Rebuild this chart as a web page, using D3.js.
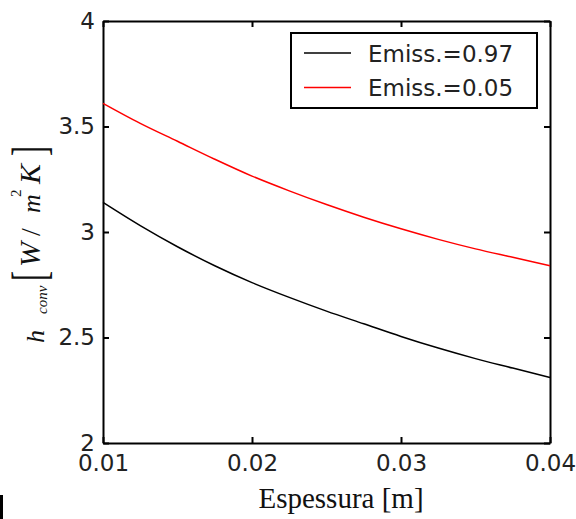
<!DOCTYPE html>
<html>
<head>
<meta charset="utf-8">
<script src="https://cdn.jsdelivr.net/npm/d3@7"></script>
<style>
  html, body { margin: 0; padding: 0; background: #fff; }
  svg { display: block; }
</style>
</head>
<body>
<svg id="chart" width="576" height="519"></svg>
<script>
// ---- data ----
const espessura = [0.01, 0.0125, 0.015, 0.0175, 0.02, 0.0225, 0.025, 0.0275, 0.03, 0.0325, 0.035, 0.0375, 0.04];
const hEmiss097 = [3.14, 3.03, 2.93, 2.84, 2.76, 2.69, 2.625, 2.565, 2.505, 2.45, 2.40, 2.355, 2.31];
const hEmiss005 = [3.61, 3.515, 3.43, 3.345, 3.265, 3.195, 3.13, 3.07, 3.015, 2.965, 2.92, 2.88, 2.84];
const seriesNames = ["Emiss.=0.97", "Emiss.=0.05"];
const seriesColors = ["#000000", "#ff0000"];
const xTickValues = [0.01, 0.02, 0.03, 0.04];
const yTickValues = [2, 2.5, 3, 3.5, 4];
const xDomain = [0.01, 0.04];
const yDomain = [2, 4];

// ---- layout ----
const svg = d3.select("#chart");
const pL = 103, pR = 550, pT = 21, pB = 443;
const x = d3.scaleLinear().domain(xDomain).range([pL, pR]);
const y = d3.scaleLinear().domain(yDomain).range([pB, pT]);

svg.append("rect").attr("width", 576).attr("height", 519).attr("fill", "#fff");

const sansFont = "DejaVu Sans, Arial, sans-serif";
const serifFont = "Liberation Serif, Times New Roman, serif";

function styleAxis(g) {
  g.select(".domain").attr("stroke", "#000").attr("stroke-width", 2);
  g.selectAll(".tick line").attr("stroke", "#000").attr("stroke-width", 2);
  g.selectAll(".tick text").attr("fill", "#222").style("font-family", sansFont).style("font-size", "23px");
}

// bottom
svg.append("g").attr("transform", `translate(0,${pB})`)
  .call(d3.axisBottom(x).tickValues(xTickValues).tickSizeInner(-6).tickSizeOuter(0).tickPadding(12).tickFormat(d3.format(".2f")))
  .call(styleAxis);
// top
svg.append("g").attr("transform", `translate(0,${pT})`)
  .call(d3.axisTop(x).tickValues(xTickValues).tickSizeInner(-6).tickSizeOuter(0).tickFormat(""))
  .call(styleAxis);
// left
svg.append("g").attr("transform", `translate(${pL},0)`)
  .call(d3.axisLeft(y).tickValues(yTickValues).tickSizeInner(-6).tickSizeOuter(0).tickPadding(8).tickFormat(d3.format("")))
  .call(styleAxis);
// right
svg.append("g").attr("transform", `translate(${pR},0)`)
  .call(d3.axisRight(y).tickValues(yTickValues).tickSizeInner(-6).tickSizeOuter(0).tickFormat(""))
  .call(styleAxis);

// ---- lines ----
const line = d3.line().x(d => x(d[0])).y(d => y(d[1])).curve(d3.curveMonotoneX);
[hEmiss097, hEmiss005].forEach((vals, i) => {
  svg.append("path")
    .datum(espessura.map((e, j) => [e, vals[j]]))
    .attr("fill", "none")
    .attr("stroke", seriesColors[i])
    .attr("stroke-width", 1.5)
    .attr("d", line);
});

// ---- legend ----
const lg = svg.append("g");
lg.append("rect").attr("x", 291).attr("y", 33).attr("width", 246).attr("height", 75)
  .attr("fill", "#fff").attr("stroke", "#000").attr("stroke-width", 2);
seriesNames.forEach((name, i) => {
  const cy = 53 + i * 34.6;
  lg.append("line").attr("x1", 304).attr("x2", 351).attr("y1", cy).attr("y2", cy)
    .attr("stroke", seriesColors[i]).attr("stroke-width", 1.5);
  lg.append("text").attr("x", 368).attr("y", cy + 8.5)
    .attr("fill", "#222").style("font-family", sansFont).style("font-size", "23px")
    .text(name);
});

// ---- x label ----
svg.append("text").attr("x", 341).attr("y", 508).attr("text-anchor", "middle")
  .attr("fill", "#111").style("font-family", serifFont).style("font-size", "29px")
  .text("Espessura [m]");

// ---- y label (rotated pieces) ----
function rot(xb, yb, str, size, italic, extra) {
  return svg.append("text")
    .attr("transform", `translate(${xb},${yb}) rotate(-90)` + (extra || ""))
    .attr("fill", "#111")
    .style("font-family", serifFont)
    .style("font-style", italic ? "italic" : "normal")
    .style("font-size", size + "px")
    .text(str);
}
rot(44, 343, "h", 26, true);
rot(47, 314, "conv", 15, true);
rot(45, 281, "[", 30, false, " scale(1,1.6)");
rot(40, 267, "W", 30, true);
rot(40, 236, "/", 28, false);
rot(40, 213, "m", 26, true);
rot(21, 197, "2", 15, false);
rot(40, 184, "K", 30, true);
rot(45, 156, "]", 30, false, " scale(1,1.6)");

// small artifact at bottom-left
svg.append("rect").attr("x", 0).attr("y", 495).attr("width", 3).attr("height", 24).attr("fill", "#000");
</script>
</body>
</html>
